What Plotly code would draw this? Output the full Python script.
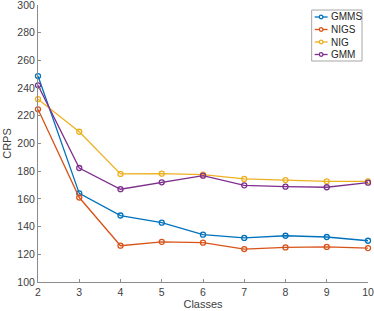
import plotly.graph_objects as go

classes = [2, 3, 4, 5, 6, 7, 8, 9, 10]
gmms = [248.7, 164.0, 148.0, 142.8, 134.2, 131.8, 133.4, 132.5, 129.8]
nigs = [224.7, 161.0, 126.2, 129.0, 128.4, 123.8, 125.0, 125.3, 124.5]
nig = [232.0, 208.5, 178.0, 178.2, 177.5, 174.4, 173.6, 172.7, 172.7]
gmm = [242.0, 182.3, 167.0, 172.0, 176.8, 169.8, 168.8, 168.4, 171.7]

series = [("GMMS", gmms, "#0072BD"), ("NIGS", nigs, "#D95319"),
          ("NIG", nig, "#EDB120"), ("GMM", gmm, "#7E2F8E")]

W, H = 374, 311
L, R, T, B = 37.5, 5.5, 5, 29
PW, PH = W - L - R, H - T - B

def px(x):
    return (x - L) / PW

def py(y):
    return 1 - (y - T) / PH

FONT = "Liberation Sans, Arial, Helvetica"
fig = go.Figure()
for name, vals, col in series:
    fig.add_trace(go.Scatter(
        x=classes, y=vals, name=name, mode="lines+markers",
        line=dict(color=col, width=1.3),
        marker=dict(symbol="circle-open", size=5, color=col, line=dict(width=1.3, color=col)),
        showlegend=False, cliponaxis=False,
    ))

axis_common = dict(
    showline=True, linecolor="#8c8c8c", linewidth=1, ticks="inside", ticklen=3,
    tickcolor="#8c8c8c", showgrid=False, zeroline=False, mirror=False,
    automargin=False, ticklabeloverflow="allow",
    tickfont=dict(family=FONT, size=10.5, color="#404040"),
)
fig.update_xaxes(range=[2, 10.0001], tickvals=classes, **axis_common,
                 title=dict(text="Classes", font=dict(family=FONT, size=11, color="#404040"), standoff=2))
fig.update_yaxes(range=[100, 300.0001], dtick=20, **axis_common,
                 title=dict(text="CRPS", font=dict(family=FONT, size=11, color="#404040"), standoff=3))

# custom compact legend (MATLAB style)
shapes = [dict(type="rect", xref="paper", yref="paper",
               x0=px(312), x1=px(362.5), y0=py(61), y1=py(10),
               line=dict(color="#a6a6a6", width=1), fillcolor="white", layer="above")]
annotations = []
for i, (name, vals, col) in enumerate(series):
    yc = 17 + i * 12.5
    shapes.append(dict(type="line", xref="paper", yref="paper",
                       x0=px(315), x1=px(328), y0=py(yc), y1=py(yc),
                       line=dict(color=col, width=1.3), layer="above"))
    shapes.append(dict(type="circle", xref="paper", yref="paper",
                       x0=px(319.7), x1=px(323.3), y0=py(yc + 1.8), y1=py(yc - 1.8),
                       line=dict(color=col, width=1.3), fillcolor="white", layer="above"))
    annotations.append(dict(text=name, xref="paper", yref="paper", x=px(329), y=py(yc),
                            xanchor="left", yanchor="middle", showarrow=False,
                            font=dict(family=FONT, size=10, color="#262626")))

fig.update_layout(
    width=W, height=H, margin=dict(l=L, r=R, t=T, b=B),
    paper_bgcolor="white", plot_bgcolor="white",
    showlegend=False, shapes=shapes, annotations=annotations,
)
fig.write_html("out.html", config={"displayModeBar": False},
               post_script="document.body.style.margin='0';document.body.style.overflow='hidden';")
